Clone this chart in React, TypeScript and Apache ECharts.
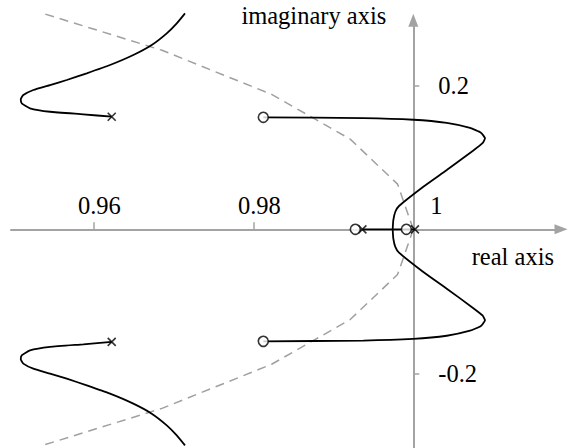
import { useEffect, useRef } from "react";
import * as echarts from "echarts";

const FONT = "'Liberation Serif', 'Times New Roman', serif";
const FONT_SIZE = 24.5;
const AXIS_GREY = "#a3a3a3";

// tick positions on each axis
const realTicks = [0.96, 0.98, 1];
const imagTicks = [-0.2, 0.2];

// unit circle (stability boundary), upper and lower halves
const unitCircleUpper: [number, number][] = [
  [1.0, 0.0], [0.99803, 0.06279], [0.99211, 0.12533], [0.98229, 0.18738], [0.96858, 0.24869], [0.95368, 0.3],
];
const unitCircleLower: [number, number][] = [
  [1.0, 0.0], [0.99803, -0.06279], [0.99211, -0.12533], [0.98229, -0.18738], [0.96858, -0.24869], [0.95368, -0.3],
];

// locus branches leaving the complex pole pair on the left
const upperLeftBranch: [number, number][] = [
  [0.9623, 0.1564], [0.95875, 0.1597], [0.95459, 0.1633], [0.95208, 0.1681], [0.95105, 0.175],
  [0.95093, 0.1806], [0.95125, 0.1865], [0.9525, 0.1935], [0.95459, 0.2004], [0.95668, 0.2074],
  [0.95918, 0.2167], [0.96209, 0.2282], [0.965, 0.2421], [0.9673, 0.256], [0.96918, 0.2722],
  [0.97043, 0.2861], [0.97146, 0.3],
];
const lowerLeftBranch: [number, number][] = [
  [0.9623, -0.1564], [0.95875, -0.1597], [0.95459, -0.1633], [0.95208, -0.1681], [0.95105, -0.175],
  [0.95093, -0.1806], [0.95125, -0.1865], [0.9525, -0.1935], [0.95459, -0.2004], [0.95668, -0.2074],
  [0.95918, -0.2167], [0.96209, -0.2282], [0.965, -0.2421], [0.9673, -0.256], [0.96918, -0.2722],
  [0.97043, -0.2861], [0.97146, -0.3],
];

// locus branches from the breakaway point near 1 to the complex zero pair
const upperRightBranch: [number, number][] = [
  [0.98125, 0.1556], [0.99375, 0.1545], [1.0, 0.1522], [1.00418, 0.1478], [1.00709, 0.1408],
  [1.00845, 0.1342], [1.00896, 0.1264], [1.00865, 0.1196], [1.00742, 0.1088], [1.00418, 0.0824],
  [1.00125, 0.0592], [0.99821, 0.0324], [0.99775, 0.0244], [0.9975, 0.0129], [0.99742, 0.0],
];
const lowerRightBranch: [number, number][] = [
  [0.98125, -0.1556], [0.99375, -0.1545], [1.0, -0.1522], [1.00418, -0.1478], [1.00709, -0.1408],
  [1.00845, -0.1342], [1.00896, -0.1264], [1.00865, -0.1196], [1.00742, -0.1088], [1.00418, -0.0824],
  [1.00125, -0.0592], [0.99821, -0.0324], [0.99775, -0.0244], [0.9975, -0.0129], [0.99742, 0.0],
];

// segment of the locus lying on the real axis
const realAxisSegment: [number, number][] = [
  [0.99363, 0.0], [1.0002, 0.0],
];

const poles: [number, number][] = [
  [0.9623, 0.1564], [0.9623, -0.1564], [0.99363, 0.0], [1.0002, 0.0],
];
const zeros: [number, number][] = [
  [0.98125, 0.1556], [0.98125, -0.1556], [0.99275, 0.0], [0.99913, 0.0],
];

const locusLine = (data: [number, number][]) => ({
  type: "line",
  data,
  symbol: "none",
  smooth: 0.15,
  clip: false,
  lineStyle: { color: "#000", width: 1.8 },
  z: 3,
});

const circleLine = (data: [number, number][]) => ({
  type: "line",
  data,
  symbol: "none",
  clip: false,
  lineStyle: { color: "#a0a0a0", width: 1.5, type: [9, 6] },
  z: 2,
});

const textBase = { fontFamily: FONT, fontSize: FONT_SIZE, color: "#000" };

export default function App() {
  const ref = useRef<HTMLDivElement>(null);

  useEffect(() => {
    const chart = echarts.init(ref.current!, null, { renderer: "svg" });
    chart.setOption({
      animation: false,
      backgroundColor: "#fff",
      textStyle: { fontFamily: FONT },
      grid: { left: 11, right: 8, top: 20.3, bottom: 0, containLabel: false, outerBoundsMode: "none" },
      xAxis: {
        type: "value",
        min: 0.94971,
        max: 1.01846,
        position: "top",
        offset: -209,
        axisLine: {
          onZero: false,
          symbol: ["none", "triangle"],
          symbolSize: [10, 13],
          lineStyle: { color: AXIS_GREY, width: 2 },
        },
        axisTick: { show: true, length: 7, customValues: realTicks, lineStyle: { color: AXIS_GREY, width: 1.5 } },
        axisLabel: {
          ...textBase,
          customValues: realTicks,
          margin: 11,
          formatter: (v: number) => (v === 1 ? "{one|1}" : "{n|" + v.toFixed(2) + "}"),
          rich: {
            n: { ...textBase, padding: [0, 0, 0, 12] },
            one: { ...textBase, padding: [0, 0, 0, 46] },
          },
        },
        splitLine: { show: false },
        name: "real axis",
        nameLocation: "end",
        nameGap: -7,
        nameMoveOverlap: false,
        nameTextStyle: {
          ...textBase,
          align: "right",
          verticalAlign: "top",
          padding: [15, 0, 0, 0],
        },
      },
      yAxis: {
        type: "value",
        min: -0.3037,
        max: 0.2903,
        position: "right",
        offset: -147.7,
        axisLine: {
          onZero: false,
          symbol: ["none", "triangle"],
          symbolSize: [10, 13],
          lineStyle: { color: AXIS_GREY, width: 2 },
        },
        axisTick: { show: true, length: 6, customValues: imagTicks, lineStyle: { color: AXIS_GREY, width: 1.5 } },
        axisLabel: {
          ...textBase,
          customValues: imagTicks,
          margin: 25,
          formatter: (v: number) => String(v),
        },
        splitLine: { show: false },
        name: "imaginary axis",
        nameLocation: "end",
        nameGap: 5,
        nameMoveOverlap: false,
        nameTextStyle: {
          ...textBase,
          align: "right",
          verticalAlign: "middle",
          padding: [0, 27, 0, 0],
        },
      },
      series: [
        circleLine(unitCircleUpper),
        circleLine(unitCircleLower),
        locusLine(upperLeftBranch),
        locusLine(lowerLeftBranch),
        locusLine(upperRightBranch),
        locusLine(lowerRightBranch),
        { ...locusLine(realAxisSegment), smooth: false },
        {
          type: "scatter",
          data: poles,
          symbol: "path://M0,0L10,10M10,0L0,10",
          symbolSize: 8,
          clip: false,
          itemStyle: { color: "none", borderColor: "#000", borderWidth: 1.6 },
          z: 5,
        },
        {
          type: "scatter",
          data: zeros,
          symbol: "circle",
          symbolSize: 10,
          clip: false,
          itemStyle: { color: "#fff", borderColor: "#000", borderWidth: 1.6 },
          z: 6,
        },
      ],
    });
    return () => chart.dispose();
  }, []);

  return (
    <div
      ref={ref}
      style={{ position: "absolute", left: 0, top: 0, width: 569, height: 448 }}
    />
  );
}
